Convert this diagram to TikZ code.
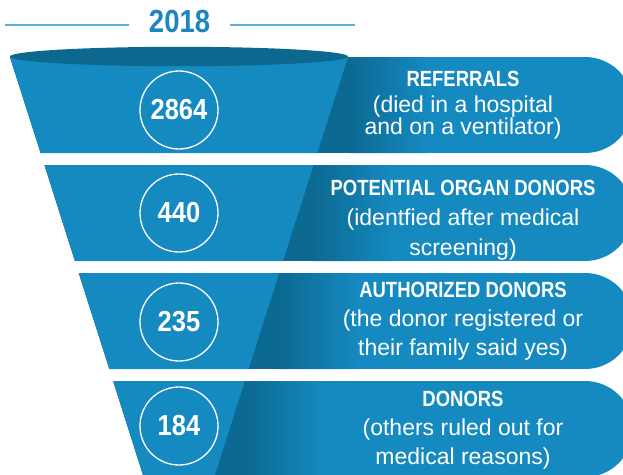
\documentclass[tikz,border=0pt]{standalone}
\usepackage{fontspec}
\setmainfont{Liberation Sans}
\newfontfamily\bcond[FakeStretch=0.88]{Liberation Sans}
\newfontfamily\hcond[FakeStretch=0.84]{Liberation Sans}
\newfontfamily\tcond[FakeStretch=0.86]{Liberation Sans}
\definecolor{fblue}{RGB}{21,138,193}
\definecolor{fdark}{RGB}{12,105,146}
\definecolor{ftop}{RGB}{13,104,143}
\definecolor{ftitle}{RGB}{27,134,192}
\definecolor{fline}{RGB}{92,175,216}
\newcommand{\myband}[6]{%
  \begin{scope}
    \clip (#3,#1) -- (585,#1) arc[start angle=-90,end angle=90,radius=48] -- (#5,#2) -- cycle;
    \fill[fblue] (0,#1) rectangle (640,#2);
    \fill[fdark] (0,#1) rectangle ({#4},#2);
    \shade[left color=fdark,right color=fblue] ({#4},#1) rectangle ({#4+80},#2);
  \end{scope}
  \fill[fblue] (#3,#1) -- (#4,#1) -- (#6,#2) -- (#5,#2) -- cycle;
}
\tikzset{
  numc/.style={circle, draw=white, line width=1.3pt, minimum size=78pt, inner sep=0pt,
    text=white, font=\bcond\bfseries\fontsize{29}{31}\selectfont},
  headtxt/.style={anchor=base, inner sep=0pt, text=white, font=\hcond\bfseries\fontsize{22}{24}\selectfont},
  bodytxt/.style={anchor=base, inner sep=0pt, text=white, font=\fontsize{23}{27}\selectfont},
  yrline/.style={draw=fline, line width=1.8pt},
}
\begin{document}
\begin{tikzpicture}[x=1pt,y=-1pt]
\useasboundingbox (0,0) rectangle (623,474);
% title
\node[anchor=base, inner sep=0pt, text=ftitle, font=\tcond\bfseries\fontsize{32}{34}\selectfont] (yr) at (179.6,32.7) {2018};
\coordinate (l1) at (5,25);
\coordinate (l2) at (129,25);
\coordinate (r1) at (230,25);
\coordinate (r2) at (355,25);
\draw[yrline] (l1) -- (l2);
\draw[yrline] (r1) -- (r2);
% bands
\myband{57}{153}{10}{348}{40.7}{317.3}
\myband{165}{261}{44.5}{313.5}{75}{283}
\myband{273}{369}{78.8}{279.2}{109.4}{248.6}
\myband{381}{477}{113.2}{244.8}{143.7}{214.3}
% top ellipse
\fill[ftop] (179,56.5) ellipse [x radius=169, y radius=9.7];
% circles
\node[numc] (c1) at (179,110) {2864};
\node[numc] (c2) at (179,213) {440};
\node[numc] (c3) at (179,322) {235};
\node[numc] (c4) at (179,426) {184};
% texts
\node[headtxt] (t1a) at (463,86) {REFERRALS};
\node[bodytxt] (t1b) at (463,112) {(died in a hospital};
\node[bodytxt] (t1c) at (463,134) {and on a ventilator)};
\node[headtxt] (t2a) at (463,195) {POTENTIAL ORGAN DONORS};
\node[bodytxt] (t2b) at (463,225) {(identfied after medical};
\node[bodytxt] (t2c) at (463,255) {screening)};
\node[headtxt] (t3a) at (463,297) {AUTHORIZED DONORS};
\node[bodytxt] (t3b) at (463,326) {(the donor registered or};
\node[bodytxt] (t3c) at (463,355) {their family said yes)};
\node[headtxt] (t4a) at (463,406) {DONORS};
\node[bodytxt] (t4b) at (463,435) {(others ruled out for};
\node[bodytxt] (t4c) at (463,464) {medical reasons)};
\end{tikzpicture}
\end{document}
